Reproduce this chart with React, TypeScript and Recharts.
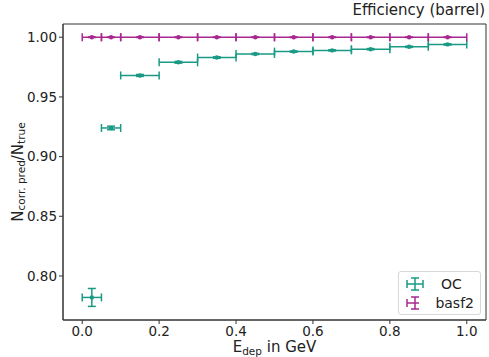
import React from "react";
import { ScatterChart, Scatter, XAxis, YAxis, ErrorBar, ReferenceArea, Label } from "recharts";

const binLo = [0, 0.05, 0.1, 0.2, 0.3, 0.4, 0.5, 0.6, 0.7, 0.8, 0.9];
const binHi = [0.05, 0.1, 0.2, 0.3, 0.4, 0.5, 0.6, 0.7, 0.8, 0.9, 1.0];
const ocEff = [0.782, 0.924, 0.968, 0.979, 0.983, 0.986, 0.988, 0.989, 0.990, 0.992, 0.994];
const ocErr = [0.0075, 0.0015, 0.0008, 0.0007, 0.0006, 0.0005, 0.0005, 0.0005, 0.0005, 0.0005, 0.0005];
const basf2Eff = [1.0, 1.0, 1.0, 1.0, 1.0, 1.0, 1.0, 1.0, 1.0, 1.0, 1.0];
const basf2Err = [0.0002, 0.0002, 0.0002, 0.0002, 0.0002, 0.0002, 0.0002, 0.0002, 0.0002, 0.0002, 0.0002];
const xTicks = [0, 0.2, 0.4, 0.6, 0.8, 1.0];
const yTicks = [0.8, 0.85, 0.9, 0.95, 1.0];

const OC_COLOR = "#1a9a85";
const BASF_COLOR = "#a8288f";
const FONT = "DejaVu Sans, sans-serif";
const X_DOMAIN: [number, number] = [-0.05, 1.05];
const Y_DOMAIN: [number, number] = [0.7631, 1.0111];

const toPoints = (eff: number[], err: number[]) =>
  binLo.map((lo, i) => ({
    x: (lo + binHi[i]) / 2,
    y: eff[i],
    xErr: (binHi[i] - lo) / 2,
    yErr: err[i],
  }));

const ocData = toPoints(ocEff, ocErr);
const basfData = toPoints(basf2Eff, basf2Err);

const dot = (color: string) => (props: any) => (
  <circle cx={props.cx} cy={props.cy} r={2.2} fill={color} />
);

function LegendIcon({ color }: { color: string }) {
  return (
    <svg width={20} height={16} style={{ display: "block" }}>
      <line x1={2} y1={8} x2={18} y2={8} stroke={color} strokeWidth={1.5} />
      <line x1={2} y1={4} x2={2} y2={12} stroke={color} strokeWidth={1.5} />
      <line x1={18} y1={4} x2={18} y2={12} stroke={color} strokeWidth={1.5} />
      <line x1={10} y1={2} x2={10} y2={14} stroke={color} strokeWidth={1.5} />
      <line x1={6} y1={2} x2={14} y2={2} stroke={color} strokeWidth={1.5} />
      <line x1={6} y1={14} x2={14} y2={14} stroke={color} strokeWidth={1.5} />
    </svg>
  );
}

function LegendBox() {
  const items = [
    { name: "OC", color: OC_COLOR },
    { name: "basf2", color: BASF_COLOR },
  ];
  return (
    <div
      style={{
        position: "absolute",
        left: 398,
        top: 271,
        width: 83,
        boxSizing: "border-box",
        border: "1px solid #d8d8d8",
        borderRadius: 3,
        background: "rgba(255,255,255,0.8)",
        padding: "2px 6px",
        fontFamily: FONT,
        fontSize: 14,
        color: "#222",
      }}
    >
      {items.map((it) => (
        <div key={it.name} style={{ display: "flex", alignItems: "center", gap: 16, height: 19 }}>
          <LegendIcon color={it.color} />
          <span>{it.name}</span>
        </div>
      ))}
    </div>
  );
}

const yLabel = (props: any) => {
  const vb = props.viewBox;
  const cx = 18;
  const cy = vb.y + vb.height / 2;
  return (
    <text
      transform={`translate(${cx},${cy}) rotate(-90)`}
      textAnchor="middle"
      fontFamily={FONT}
      fontSize={15}
      fill="#222"
      dominantBaseline="middle"
    >
      <tspan>N</tspan>
      <tspan fontSize={10.5} dy={4}>corr. pred</tspan>
      <tspan dy={-4}>/N</tspan>
      <tspan fontSize={10.5} dy={4}>true</tspan>
    </text>
  );
};

const xLabel = (props: any) => {
  const vb = props.viewBox;
  return (
    <text
      x={vb.x + vb.width / 2}
      y={352}
      textAnchor="middle"
      fontFamily={FONT}
      fontSize={15}
      fill="#222"
    >
      <tspan>E</tspan>
      <tspan fontSize={10.5} dy={3}>dep</tspan>
      <tspan dy={-3}> in GeV</tspan>
    </text>
  );
};

export default function App() {
  return (
    <div style={{ position: "absolute", left: 0, top: 0, width: 489, height: 357, background: "#fff" }}>
      <ScatterChart width={489} height={357} margin={{ top: 24, right: 3, bottom: 0, left: 0 }}>
        <XAxis
          type="number"
          dataKey="x"
          domain={X_DOMAIN}
          ticks={xTicks}
          allowDataOverflow
          height={37}
          tickFormatter={(v: number) => v.toFixed(1)}
          tick={{ fontFamily: FONT, fontSize: 13.5, fill: "#222" }}
          tickLine={{ stroke: "#333" }}
          tickSize={4}
          axisLine={{ stroke: "#333" }}
        >
          <Label content={xLabel} />
        </XAxis>
        <YAxis
          type="number"
          dataKey="y"
          domain={Y_DOMAIN}
          ticks={yTicks}
          allowDataOverflow
          width={63}
          tickFormatter={(v: number) => v.toFixed(2)}
          tick={{ fontFamily: FONT, fontSize: 13.5, fill: "#222" }}
          tickLine={{ stroke: "#333" }}
          tickSize={4}
          axisLine={{ stroke: "#333" }}
        >
          <Label content={yLabel} />
        </YAxis>
        <ReferenceArea
          x1={X_DOMAIN[0]}
          x2={X_DOMAIN[1]}
          y1={Y_DOMAIN[0]}
          y2={Y_DOMAIN[1]}
          fill="none"
          stroke="#333"
          strokeWidth={1}
        />
        <Scatter name="OC" data={ocData} fill={OC_COLOR} shape={dot(OC_COLOR)} isAnimationActive={false}>
          <ErrorBar dataKey="xErr" direction="x" width={4} stroke={OC_COLOR} strokeWidth={1.5} isAnimationActive={false} />
          <ErrorBar dataKey="yErr" direction="y" width={4} stroke={OC_COLOR} strokeWidth={1.5} isAnimationActive={false} />
        </Scatter>
        <Scatter name="basf2" data={basfData} fill={BASF_COLOR} shape={dot(BASF_COLOR)} isAnimationActive={false}>
          <ErrorBar dataKey="xErr" direction="x" width={4} stroke={BASF_COLOR} strokeWidth={1.5} isAnimationActive={false} />
          <ErrorBar dataKey="yErr" direction="y" width={4} stroke={BASF_COLOR} strokeWidth={1.5} isAnimationActive={false} />
        </Scatter>
      </ScatterChart>
      <LegendBox />
      <div
        style={{
          position: "absolute",
          right: 4,
          top: 1,
          fontFamily: FONT,
          fontSize: 15,
          color: "#222",
        }}
      >
        Efficiency (barrel)
      </div>
    </div>
  );
}
